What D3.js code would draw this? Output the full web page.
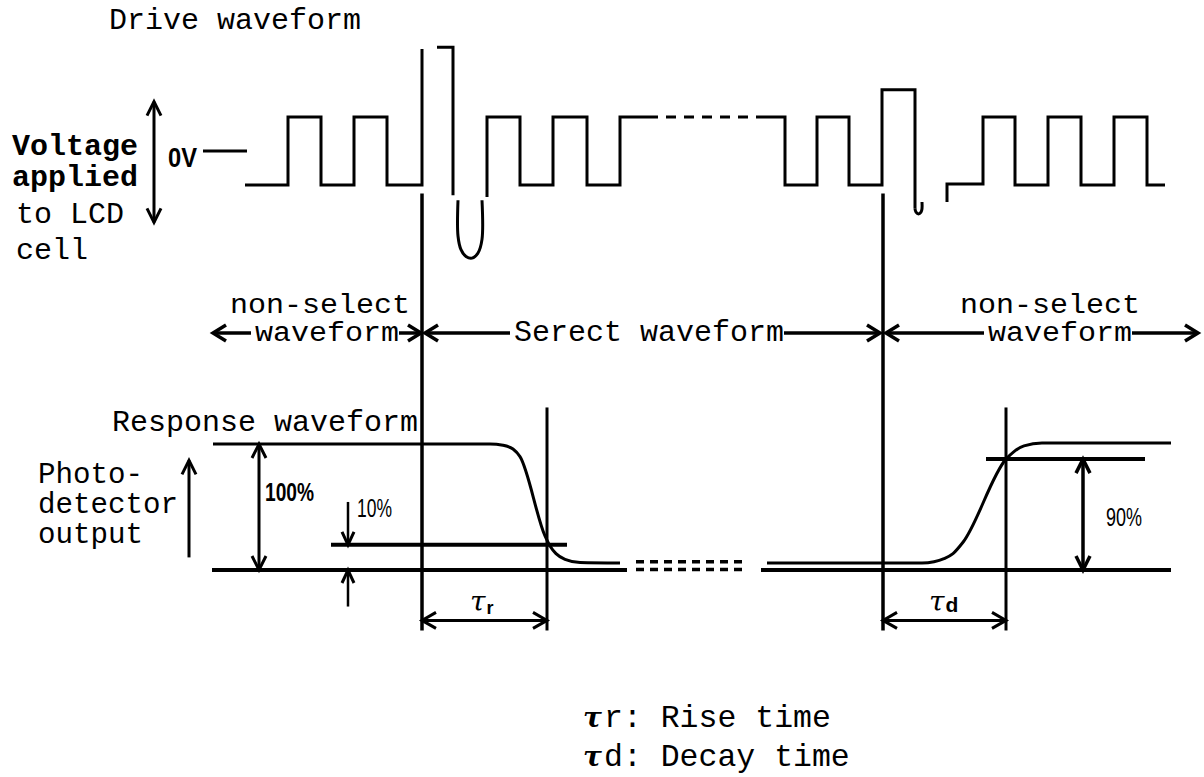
<!DOCTYPE html>
<html><head><meta charset="utf-8">
<script src="https://cdn.jsdelivr.net/npm/d3@7"></script>
<style>body{margin:0;background:#fff}svg{display:block}</style>
</head><body><svg id="c" width="1204" height="777"></svg>
<script>
// ---------- DATA (time in arbitrary units, drive in V-units, response in %) ----------
const driveSeg1 = [[24.5,-1],[28.8,-1],[28.8,1],[32.1,1],[32.1,-1],[35.4,-1],[35.4,1],[38.7,1],[38.7,-1],[42.2,-1],[42.2,3.0]];
const driveHook = [[43.7,3.05],[45.3,3.05],[45.3,-1.3]];
const driveDip  = [[45.8,-1.45],[45.8,-2.5],[46.1,-2.9],[46.6,-3.1],[47.2,-3.15],[47.8,-3.0],[48.2,-2.6],[48.2,-1.45]];
const driveSeg2 = [[48.7,-1.35],[48.7,1],[52.0,1],[52.0,-1],[55.3,-1],[55.3,1],[58.7,1],[58.7,-1],[62.0,-1],[62.0,1],[64.8,1]];
const driveDash = [[64.8,1],[76.0,1]];
const driveSeg3 = [[76.0,1],[78.5,1],[78.5,-1],[81.7,-1],[81.7,1],[84.9,1],[84.9,-1],[88.2,-1],[88.2,1.8],[91.5,1.8],[91.5,-1.7]];
const driveTail = [[91.5,-1.7],[91.6,-1.8],[91.85,-1.85],[92.1,-1.8],[92.2,-1.7],[92.2,-1.5]];
const driveSeg4 = [[94.7,-1.5],[94.7,-0.97],[98.3,-0.97],[98.3,1],[101.5,1],[101.5,-1],[104.8,-1],[104.8,1],[108.1,1],[108.1,-1],[111.4,-1],[111.4,1],[114.7,1],[114.7,-1],[116.5,-1]];
const zeroVolt  = [[20.3,0],[24.7,0]];

const respFall = [[21.3,100],[49.0,100],[50.3,99],[51.3,96],[52.0,90],[54.5,27],[55.0,19],[55.6,13],[56.5,8.5],[58.0,6],[62.0,5.5]];
const respRise = [[76.7,5.5],[92.2,5.5],[93.4,6.5],[94.4,9],[95.3,13],[96.3,22],[100.6,88],[101.4,94],[102.4,98.5],[104.2,100.8],[117.1,100.8]];
const refLevels = [
  {t0:21.2, t1:62.7, p:0},
  {t0:76.1, t1:117.1, p:0},
  {t0:33.1, t1:56.7, p:20},
  {t0:98.6, t1:114.5, p:88}
];
const dashLevels = [{t0:63.6, t1:74.7, p:6.5},{t0:63.6, t1:74.7, p:0.3}];

// vertical timing lines: top in drive volts (vTop) or response % (pTop), bottom in response %
const timingLines = [
  {t:42.2, vTop:-1.25, pBot:-48, w:3.5},
  {t:88.3, vTop:-1.25, pBot:-48, w:3.5},
  {t:54.7, pTop:129,   pBot:-48, w:3},
  {t:100.6,pTop:129,   pBot:-48, w:3}
];

const sections = [
  {t0:21.3, t1:42.1, labels:["non-select","waveform"]},
  {t0:42.5, t1:88.0, labels:["Serect waveform"]},
  {t0:88.6, t1:119.8, labels:["non-select","waveform"]}
];
const tauSpans = [{t0:42.2, t1:54.7, sym:"r"},{t0:88.3, t1:100.6, sym:"d"}];
const legendRows = [{sym:"r", text:"r: Rise time"},{sym:"d", text:"d: Decay time"}];
const pctLabels = ["100%","10%","90%"];
const driveLabel = ["Voltage","applied","to LCD","cell"];
const photoLabel = ["Photo-","detector","output"];

// ---------- SCALES ----------
const x  = d3.scaleLinear().domain([0,120]).range([0,1200]);
const yD = d3.scaleLinear().domain([-1,1]).range([185,117]);
const yR = d3.scaleLinear().domain([0,100]).range([570,444]);

const svg = d3.select("#c");
svg.append("rect").attr("width",1204).attr("height",777).attr("fill","#fff");

const lineD = d3.line().x(d=>x(d[0])).y(d=>yD(d[1]));
const lineDc = d3.line().x(d=>x(d[0])).y(d=>yD(d[1])).curve(d3.curveCatmullRom.alpha(0.5));
const lineR = d3.line().x(d=>x(d[0])).y(d=>yR(d[1])).curve(d3.curveMonotoneX);

const g = svg.append("g").attr("fill","none").attr("stroke","#000").attr("stroke-linejoin","miter");

[driveSeg1, driveHook, driveSeg2, driveSeg3, driveSeg4].forEach(s=>{
  g.append("path").attr("d", lineD(s)).attr("stroke-width",3);
});
[driveDip, driveTail].forEach(s=>{
  g.append("path").attr("d", lineDc(s)).attr("stroke-width",3);
});
g.append("path").attr("d", lineD(driveDash)).attr("stroke-width",3).attr("stroke-dasharray","10 8");
g.append("path").attr("d", lineD(zeroVolt)).attr("stroke-width",3);

timingLines.forEach(l=>{
  const top = l.vTop!==undefined ? yD(l.vTop) : yR(l.pTop);
  g.append("line").attr("x1",x(l.t)).attr("x2",x(l.t)).attr("y1",top).attr("y2",yR(l.pBot)).attr("stroke-width",l.w);
});

refLevels.forEach(r=>{
  g.append("line").attr("x1",x(r.t0)).attr("x2",x(r.t1)).attr("y1",yR(r.p)).attr("y2",yR(r.p)).attr("stroke-width",4);
});
dashLevels.forEach(r=>{
  g.append("line").attr("x1",x(r.t0)).attr("x2",x(r.t1)).attr("y1",yR(r.p)).attr("y2",yR(r.p)).attr("stroke-width",3.5).attr("stroke-dasharray","8 6");
});
g.append("path").attr("d", lineR(respFall)).attr("stroke-width",3);
g.append("path").attr("d", lineR(respRise)).attr("stroke-width",3);

function head(px,py,dx,dy,L=12,W=7,sw=3){
  const n=Math.hypot(dx,dy); dx/=n; dy/=n;
  const qx=-dy, qy=dx;
  g.append("path").attr("d",`M${px-L*dx+W*qx},${py-L*dy+W*qy}L${px},${py}L${px-L*dx-W*qx},${py-L*dy-W*qy}`).attr("stroke-width",sw);
}
function seg(x1,y1,x2,y2,sw=3){
  g.append("line").attr("x1",x1).attr("y1",y1).attr("x2",x2).attr("y2",y2).attr("stroke-width",sw);
}
function vArrow(px,y1,y2,both,sw=3){
  seg(px,y1,px,y2,sw); head(px,y1,0,-1,14,7,sw); if(both) head(px,y2,0,1,14,7,sw);
}

vArrow(154, yD(1.45), yD(-2.1), true, 3);      // drive voltage
vArrow(189, yR(87), yR(10), false, 3);          // photodetector
vArrow(259, yR(100), yR(0), true, 3);           // 100%
seg(348, yR(54), 348, yR(20), 2.5); head(348, yR(20), 0, 1, 13, 6, 3);   // 10%
seg(348, yR(-29), 348, yR(0), 2.5); head(348, yR(0), 0, -1, 13, 6, 3);
vArrow(1083, yR(88), yR(0), true, 3.5);         // 90%

// section arrows
const ySec = 333;
const secTextX = [255, 514, 988];
const secTextW = [144, 270, 144];
sections.forEach((s,i)=>{
  const a = x(s.t0), b = x(s.t1);
  const tx0 = secTextX[i];
  const tx1 = tx0 + secTextW[i];
  seg(a, ySec, tx0-4, ySec, 3.5); head(a, ySec, -1, 0, 13, 8, 3.5);
  seg(tx1, ySec, b, ySec, 3.5); head(b, ySec, 1, 0, 13, 8, 3.5);
});

const yTau = yR(-40);
tauSpans.forEach(s=>{
  seg(x(s.t0), yTau, x(s.t1), yTau, 3);
  head(x(s.t0), yTau, -1, 0, 14, 8, 3);
  head(x(s.t1), yTau, 1, 0, 14, 8, 3);
});

// ---------- TEXT ----------
const mono = "'Liberation Mono','Courier New',monospace";
const sans = "'Liberation Sans',Arial,sans-serif";
const serif = "'DejaVu Serif','Liberation Serif',serif";
const T = svg.append("g").attr("fill","#000");
function txt(s,px,py,opts={}){
  const t=T.append("text").attr("x",px).attr("y",py).text(s)
    .attr("font-family",opts.ff||mono).attr("font-size",opts.fs||30);
  if(opts.fw) t.attr("font-weight",opts.fw);
  if(opts.fst) t.attr("font-style",opts.fst);
  if(opts.tl) t.attr("textLength",opts.tl).attr("lengthAdjust","spacingAndGlyphs");
  return t;
}
txt("Drive waveform",109,29);
const dlx=[12,12,16,16], dly=[155,186,223,259];
driveLabel.forEach((s,i)=>txt(s,dlx[i],dly[i],{fw:i<2?"bold":null}));
txt("0V",168,167,{ff:sans,fs:27,fw:"bold",tl:29});

txt(sections[0].labels[0],230,313,{fs:27,tl:180});
txt(sections[0].labels[1],255,341,{fs:27,tl:144});
txt(sections[1].labels[0],514,341,{fs:29,tl:270});
txt(sections[2].labels[0],960,313,{fs:27,tl:180});
txt(sections[2].labels[1],988,341,{fs:27,tl:144});

txt("Response waveform",112,431);
photoLabel.forEach((s,i)=>txt(s,38,483+i*30,{fs:29,tl:s.length*17.5}));

txt(pctLabels[0],265,501,{ff:sans,fs:25,fw:"bold",tl:49});
txt(pctLabels[1],357,517,{ff:sans,fs:25,tl:35});
txt(pctLabels[2],1106,526,{ff:sans,fs:25,tl:36});

function tauLabel(px,py,sym,symSize,dy){
  const t=T.append("text").attr("x",px).attr("y",py);
  t.append("tspan").attr("font-family",serif).attr("font-style","italic").attr("font-size",28).text("\u03C4");
  t.append("tspan").attr("font-family",sans).attr("font-weight","bold").attr("font-size",symSize).attr("dy",dy).attr("dx",1).text(sym);
}
tauLabel(470,611,tauSpans[0].sym,18,3);
tauLabel(929,611,tauSpans[1].sym,21,1);

legendRows.forEach((r,i)=>{
  const yy = 727 + i*39;
  const t = T.append("text").attr("x",583).attr("y",yy).attr("font-size",31.5).attr("font-family",mono);
  t.append("tspan").attr("font-family",serif).attr("font-style","italic").attr("font-weight","bold").attr("font-size",28).text("\u03C4");
  t.append("tspan").attr("x",604).text(r.text);
});
</script></body></html>
